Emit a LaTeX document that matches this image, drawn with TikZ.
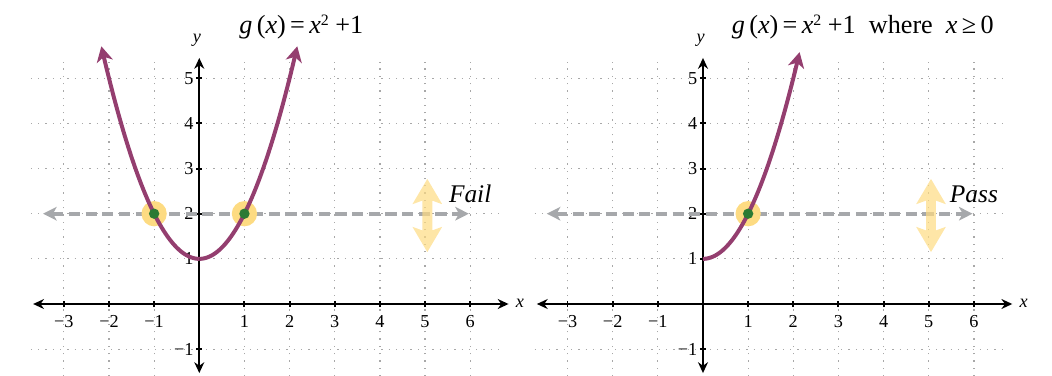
\documentclass[tikz,border=0pt]{standalone}
\usepackage{fontspec}
\setmainfont{Liberation Serif}
\usepackage{tikz}
\usetikzlibrary{arrows.meta}
\definecolor{cmorado}{HTML}{943E6F}
\definecolor{cverde}{HTML}{2B7A34}
\definecolor{camarillo}{HTML}{FDDB82}
\definecolor{cgris}{HTML}{A6A8AB}
\definecolor{crejilla}{HTML}{A8A8A8}
\newcommand{\cuad}{\raisebox{0.62ex}{\fontsize{10}{10}\selectfont 2}}
\tikzset{
  rejilla/.style={draw=crejilla, line width=0.8pt, dash pattern=on 0.8pt off 3.8pt},
  eje/.style={{Stealth[length=2.4mm,width=2.2mm]}-{Stealth[length=2.4mm,width=2.2mm]}, line width=1.2pt},
  marca/.style={line width=1.2pt},
  curva/.style={line width=2.5pt, draw=cmorado},
  punta/.style={-{Stealth[length=3.4mm,width=3.6mm,inset=1mm]}},
  guia/.style={{Stealth[length=3mm,width=3mm,inset=0.8mm]}-{Stealth[length=3mm,width=3mm,inset=0.8mm]},
    line width=2.6pt, draw=cgris, dash pattern=on 7pt off 3.5pt},
  halo/.style={circle, fill=camarillo, minimum size=0.56cm, inner sep=0pt},
  punto/.style={circle, fill=cverde, minimum size=0.23cm, inner sep=0pt},
  flechav/.style={fill=camarillo, fill opacity=0.7},
  etq/.style={font=\fontsize{11.5}{13}\selectfont, inner sep=0pt},
  titulo/.style={font=\fontsize{16.5}{19}\selectfont, anchor=base, inner sep=0pt},
  prueba/.style={font=\fontsize{16}{19}\selectfont\itshape, anchor=base, inner sep=0pt},
}

\begin{document}
\begin{tikzpicture}
  \useasboundingbox (-4.414,-1.573) rectangle (18.886,6.733);
  % lo comun a los dos planos
  \foreach \g/\dx/\res in {a/0/Fail, b/11.156/Pass}{
  \begin{scope}[xshift=\dx cm]
    \foreach \j in {-1,1,2,3,4,5} \draw[rejilla] (-3.73,\j) -- (6.7,\j);
    \foreach \i in {-3,-2,-1,1,2,3,4,5,6} \draw[rejilla] (\i,-1.6) -- (\i,5.37);
    \coordinate (\g xi) at (-3.68,0); \coordinate (\g xf) at (6.85,0);
    \coordinate (\g yi) at (0,-1.53); \coordinate (\g yf) at (0,5.45);
    \draw[eje] (\g xi) -- (\g xf);
    \draw[eje] (\g yi) -- (\g yf);
    \foreach \i in {-3,-2,-1,1,2,3,4,5,6} \draw[marca] (\i,-0.07) -- (\i,0.07);
    \foreach \j in {-1,1,2,3,4,5} \draw[marca] (-0.07,\j) -- (0.07,\j);
    \foreach \i in {1,2,3} \node[etq, anchor=north] (\g xm\i) at (-\i,-0.24) {−\i};
    \foreach \i in {1,...,6} \node[etq, anchor=north] (\g xp\i) at (\i,-0.24) {\i};
    \node[etq, anchor=east] (\g ym1) at (-0.12,-1) {−1};
    \foreach \j in {1,...,5} \node[etq, anchor=east] (\g yp\j) at (-0.12,\j) {\j};
    \node[etq, font=\fontsize{11.5}{13}\selectfont\itshape] (\g x) at (7.1,0.02) {x};
    \node[etq, font=\fontsize{11.5}{13}\selectfont\itshape] (\g y) at (-0.05,5.85) {y};
    % recta horizontal y = 2
    \coordinate (\g hi) at (-3.46,2); \coordinate (\g hf) at (5.97,2);
    \draw[guia] (\g hi) -- (\g hf);
    \fill[flechav] (5.05,2.77) -- (5.38,2.21) -- (5.16,2.29) -- (5.16,1.63) -- (5.38,1.71)
      -- (5.05,1.15) -- (4.72,1.71) -- (4.94,1.63) -- (4.94,2.29) -- (4.72,2.21) -- cycle;
    \node[prueba] (\g res) at (6.0,2.24) {\res};
  \end{scope}}
  % g(x) = x^2 + 1
  \node[halo] (ha1) at (-1,2) {};
  \node[halo] (ha2) at (1,2) {};
  \draw[curva, punta] plot[domain=0:-2.17, samples=50] (\x, {\x*\x+1});
  \draw[curva, punta] plot[domain=0:2.17, samples=50] (\x, {\x*\x+1});
  \node[punto] (pa1) at (-1,2) {};
  \node[punto] (pa2) at (1,2) {};
  \node[titulo] (ta) at (2.26,6.0) {\textit{g}\,(\textit{x})\,=\,\textit{x}\cuad\ +1};
  % con x >= 0
  \begin{scope}[xshift=11.156cm]
    \node[halo] (hb1) at (1,2) {};
    \draw[curva, punta] plot[domain=0:2.14, samples=50] (\x, {\x*\x+1});
    \node[punto] (pb1) at (1,2) {};
    \node[titulo] (tb) at (3.54,6.0) {\textit{g}\,(\textit{x})\,=\,\textit{x}\cuad\ +1\ \ where\ \ \textit{x}\,≥\,0};
  \end{scope}
\end{tikzpicture}
\end{document}
